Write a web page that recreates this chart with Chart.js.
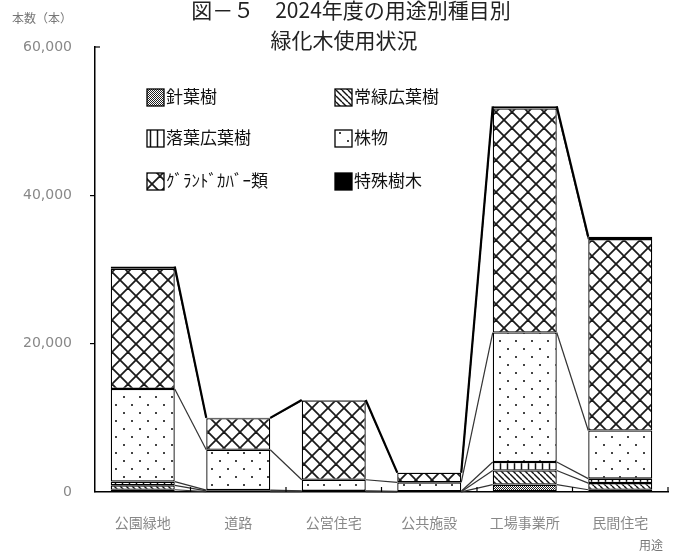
<!DOCTYPE html>
<html>
<head>
<meta charset="utf-8">
<script src="https://cdn.jsdelivr.net/npm/chart.js@4/dist/chart.umd.min.js"></script>
<style>
html,body{margin:0;padding:0;background:#fff;}
#wrap{width:684px;height:553px;position:relative;}
</style>
</head>
<body>
<div id="wrap"><canvas id="c" width="684" height="553"></canvas></div>
<script>
// ---- data ----
const categories = ['公園緑地', '道路', '公営住宅', '公共施設', '工場事業所', '民間住宅'];
const seriesNames = ['針葉樹', '常緑広葉樹', '落葉広葉樹', '株物', 'ｸﾞﾗﾝﾄﾞｶﾊﾞｰ類', '特殊樹木'];
const conifer    = [300, 50, 50, 20, 1000, 300];
const evergreen  = [600, 100, 50, 30, 1900, 900];
const deciduous  = [500, 100, 50, 50, 1150, 600];
const shrubs     = [12500, 5450, 1500, 1200, 17450, 6500];
const groundCover= [16200, 4250, 10700, 1300, 30200, 25800];
const special    = [300, 50, 50, 20, 300, 300];
const yTicks = [0, 20000, 40000, 60000];
const titleLines = ['図－５　2024年度の用途別種目別', '緑化木使用状況'];
const yUnit = '本数（本）';
const xUnit = '用途';

const canvas = document.getElementById('c');
const ctx0 = canvas.getContext('2d');

function mkPattern(w, h, draw) {
  const c = document.createElement('canvas');
  c.width = w; c.height = h;
  const g = c.getContext('2d');
  g.fillStyle = '#fff';
  g.fillRect(0, 0, w, h);
  draw(g);
  return ctx0.createPattern(c, 'repeat');
}
const patConifer = mkPattern(2, 2, g => {
  g.fillStyle = '#222'; g.fillRect(0, 0, 1, 1); g.fillRect(1, 1, 1, 1);
});
const patEvergreen = mkPattern(6, 6, g => {
  g.strokeStyle = '#111'; g.lineWidth = 1.4;
  for (const k of [-6, 0, 6]) { g.beginPath(); g.moveTo(k, 0); g.lineTo(k + 6, 6); g.stroke(); }
});
const patDeciduous = mkPattern(7, 7, g => {
  g.strokeStyle = '#111'; g.lineWidth = 1.5;
  g.beginPath(); g.moveTo(3.5, 0); g.lineTo(3.5, 7); g.stroke();
});
const patShrubs = mkPattern(16, 16, g => {
  g.fillStyle = '#444'; g.fillRect(3, 4, 2, 2); g.fillRect(11, 12, 2, 2);
});
const patGround = mkPattern(16, 16, g => {
  g.strokeStyle = '#1a1a1a'; g.lineWidth = 1.8;
  g.beginPath(); g.moveTo(0, 0); g.lineTo(16, 16); g.stroke();
  g.beginPath(); g.moveTo(16, 0); g.lineTo(0, 16); g.stroke();
});
const fills = [patConifer, patEvergreen, patDeciduous, patShrubs, patGround, '#000'];
const seriesData = [conifer, evergreen, deciduous, shrubs, groundCover, special];

const datasets = seriesNames.map((n, i) => ({
  label: n,
  data: seriesData[i],
  backgroundColor: fills[i],
  borderColor: '#000',
  borderWidth: 1.3,
  borderSkipped: false,
  barPercentage: 0.67,
  categoryPercentage: 1.0
}));

const extras = {
  id: 'extras',
  afterDatasetsDraw(chart) {
    const ctx = chart.ctx;
    ctx.save();
    chart.data.datasets.forEach((ds, d) => {
      const meta = chart.getDatasetMeta(d);
      const last = d === chart.data.datasets.length - 1;
      ctx.strokeStyle = last ? '#000' : '#333';
      ctx.lineWidth = last ? 2.2 : 1.2;
      for (let i = 0; i < meta.data.length - 1; i++) {
        const a = meta.data[i], b = meta.data[i + 1];
        ctx.beginPath();
        ctx.moveTo(a.x + a.width / 2, a.y);
        ctx.lineTo(b.x - b.width / 2, b.y);
        ctx.stroke();
      }
    });
    ctx.restore();
  },
  afterDraw(chart) {
    const ctx = chart.ctx;
    const area = chart.chartArea;
    const xs = chart.scales.x;
    ctx.save();
    // inward ticks on x axis
    ctx.strokeStyle = '#000'; ctx.lineWidth = 1.2;
    const bx = [];
    for (let i = 0; i < categories.length - 1; i++) {
      bx.push((xs.getPixelForValue(i) + xs.getPixelForValue(i + 1)) / 2);
    }
    bx.push(area.right);
    bx.forEach(x => { ctx.beginPath(); ctx.moveTo(x, area.bottom); ctx.lineTo(x, area.bottom - 5); ctx.stroke(); });
    // top tick to the right
    ctx.beginPath(); ctx.moveTo(area.left, area.top); ctx.lineTo(area.left + 5, area.top); ctx.stroke();

    // title
    ctx.fillStyle = '#222';
    ctx.textAlign = 'center';
    ctx.textBaseline = 'middle';
    ctx.font = '21px "Noto Sans CJK JP"';
    ctx.fillText(titleLines[0], 351, 10);
    ctx.fillText(titleLines[1], 344, 40);

    // units
    ctx.fillStyle = '#777';
    ctx.font = '12px "Noto Sans CJK JP"';
    ctx.textAlign = 'left';
    ctx.fillText(yUnit, 12, 18);
    ctx.fillText(xUnit, 639, 545);

    // legend
    ctx.font = '17px "Noto Sans CJK JP"';
    const cols = [147, 335];
    const rows = [97, 138, 181];
    seriesNames.forEach((n, i) => {
      const cx = cols[i % 2], cy = rows[Math.floor(i / 2)];
      ctx.fillStyle = fills[i];
      ctx.fillRect(cx, cy - 8, 17, 17);
      ctx.strokeStyle = '#000'; ctx.lineWidth = 1.3;
      ctx.strokeRect(cx, cy - 8, 17, 17);
      ctx.fillStyle = '#111';
      ctx.textAlign = 'left';
      ctx.fillText(n, cx + 19, cy);
    });
    ctx.restore();
  }
};

new Chart(canvas, {
  type: 'bar',
  data: { labels: categories, datasets },
  plugins: [extras],
  options: {
    responsive: false,
    animation: false,
    layout: { padding: { top: 47, right: 16, left: 0, bottom: 0 } },
    plugins: { legend: { display: false }, title: { display: false }, tooltip: { enabled: false } },
    scales: {
      x: {
        stacked: true,
        grid: { display: false, drawTicks: false },
        border: { display: true, color: '#000', width: 1.5 },
        ticks: { color: '#888', font: { family: '"Noto Sans CJK JP"', size: 14 }, padding: 22, maxRotation: 0 },
        afterFit(s) { s.height = 61; }
      },
      y: {
        stacked: true,
        min: 0, max: 60000,
        afterBuildTicks(s) { s.ticks = yTicks.map(v => ({ value: v })); },
        grid: {
          drawOnChartArea: false, drawTicks: true, tickLength: 5,
          color: c => (c.tick && (c.tick.value === 0 || c.tick.value === 60000)) ? 'rgba(0,0,0,0)' : '#000',
          lineWidth: 1.2
        },
        border: { display: true, color: '#000', width: 1.5 },
        ticks: {
          color: '#888', font: { family: '"DejaVu Sans"', size: 14 }, padding: 18,
          callback: v => v.toLocaleString('en-US')
        },
        afterFit(s) { s.width = 95; }
      }
    }
  }
});
</script>
</body>
</html>
